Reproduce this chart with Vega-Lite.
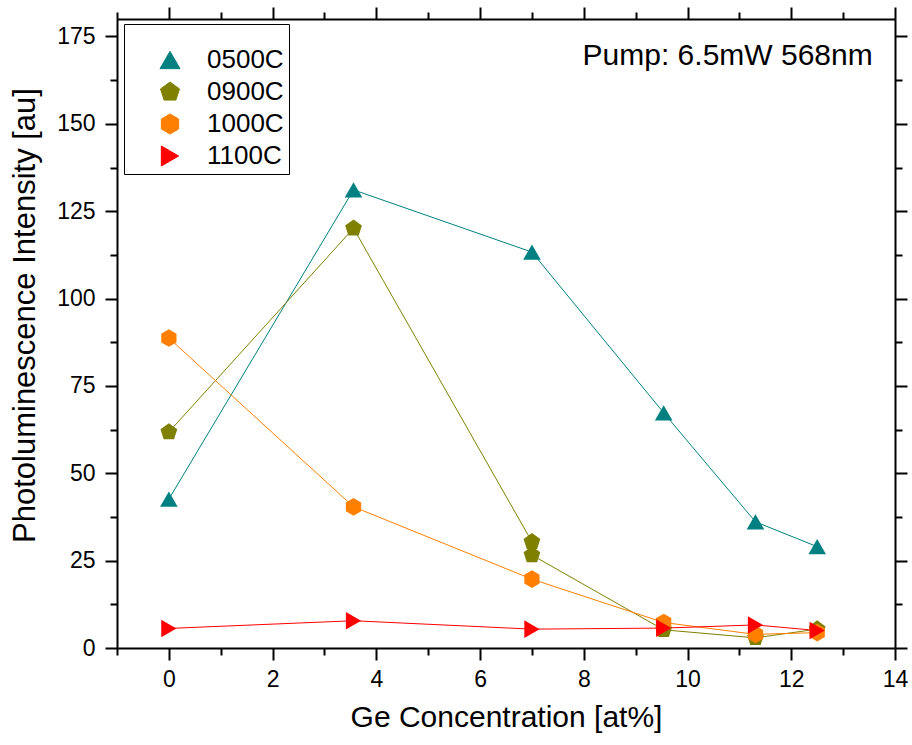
{
  "$schema": "https://vega.github.io/schema/vega-lite/v6.json",
  "width": 778,
  "height": 629,
  "autosize": "none",
  "padding": {"left": 117, "top": 19, "right": 17, "bottom": 97},
  "background": "white",
  "config": {
    "font": "Liberation Sans",
    "view": {"stroke": null},
    "axis": {
      "labelColor": "black", "titleColor": "black", "tickColor": "black", "domainColor": "black",
      "domainWidth": 2, "tickWidth": 2, "labelFontSize": 23, "titleFontSize": 30,
      "titleFontWeight": "normal", "grid": false, "labelFlush": false, "labelOverlap": false,
      "labelFont": "Liberation Sans", "titleFont": "Liberation Sans"
    },
    "legend": {
      "orient": "none", "legendX": 7, "legendY": 5, "padding": 5,
      "strokeColor": "black", "fillColor": "white", "titleFontSize": 12, "titlePadding": 6,
      "labelFontSize": 26, "labelColor": "black", "labelFont": "Liberation Sans",
      "symbolSize": 400, "symbolOffset": 28, "labelOffset": 24, "rowPadding": 6
    }
  },
  "data": {"values": [
    {"series": "0500C", "marker": "0500C", "i": 0, "x": 0, "y": 42.6},
    {"series": "0500C", "marker": "0500C", "i": 1, "x": 3.56, "y": 131.1},
    {"series": "0500C", "marker": "0500C", "i": 2, "x": 7, "y": 113.3},
    {"series": "0500C", "marker": "0500C", "i": 3, "x": 9.54, "y": 67.3},
    {"series": "0500C", "marker": "0500C", "i": 4, "x": 11.31, "y": 36.1},
    {"series": "0500C", "marker": "0500C", "i": 5, "x": 12.5, "y": 29.0},
    {"series": "0900C", "marker": "0900C", "i": 0, "x": 0, "y": 61.8},
    {"series": "0900C", "marker": "0900C", "i": 1, "x": 3.56, "y": 120.1},
    {"series": "0900C", "marker": "0900C", "i": 2, "x": 7, "y": 30.4},
    {"series": "0900C", "marker": "0900C", "i": 3, "x": 7, "y": 26.6},
    {"series": "0900C", "marker": "0900C", "i": 4, "x": 9.54, "y": 5.2},
    {"series": "0900C", "marker": "0900C", "i": 5, "x": 11.31, "y": 2.9},
    {"series": "0900C", "marker": "0900C", "i": 6, "x": 12.5, "y": 5.4},
    {"series": "1000C", "marker": "1000C", "i": 0, "x": 0, "y": 88.7},
    {"series": "1000C", "marker": "1000C", "i": 1, "x": 3.56, "y": 40.4},
    {"series": "1000C", "marker": "1000C", "i": 2, "x": 7, "y": 19.7},
    {"series": "1000C", "marker": "1000C", "i": 3, "x": 9.54, "y": 7.3},
    {"series": "1000C", "marker": "1000C", "i": 4, "x": 11.31, "y": 3.9},
    {"series": "1000C", "marker": "1000C", "i": 5, "x": 12.5, "y": 4.4},
    {"series": "1100C", "marker": "1100C", "i": 0, "x": 0, "y": 5.6},
    {"series": "1100C", "marker": "1100C", "i": 1, "x": 3.56, "y": 7.8},
    {"series": "1100C", "marker": "1100C", "i": 2, "x": 7, "y": 5.4},
    {"series": "1100C", "marker": "1100C", "i": 3, "x": 9.54, "y": 5.7},
    {"series": "1100C", "marker": "1100C", "i": 4, "x": 11.31, "y": 6.6},
    {"series": "1100C", "marker": "1100C", "i": 5, "x": 12.5, "y": 5.0}
  ]},
  "layer": [
    {
      "mark": {"type": "line", "strokeWidth": 1},
      "encoding": {
        "x": {"field": "x", "type": "quantitative",
          "scale": {"domain": [-1, 14], "nice": false, "zero": false},
          "axis": {"orient": "bottom", "title": "Ge Concentration [at%]",
            "values": [-1,0,1,2,3,4,5,6,7,8,9,10,11,12,13,14],
            "labelExpr": "datum.value % 2 === 0 ? datum.label : ''",
            "tickSize": {"condition": {"test": "datum.value % 2 === 0", "value": 12}, "value": 7},
            "labelPadding": 8, "titlePadding": 11}},
        "y": {"field": "y", "type": "quantitative",
          "scale": {"domain": [0, 180], "nice": false, "zero": false},
          "axis": {"orient": "left", "title": "Photoluminescence Intensity [au]", "titleFontSize": 31,
            "titleX": -92, "titleY": 296, "titleAlign": "center", "titleBaseline": "middle", "titleAngle": 270,
            "values": [0,12.5,25,37.5,50,62.5,75,87.5,100,112.5,125,137.5,150,162.5,175],
            "labelExpr": "datum.value % 25 === 0 ? datum.label : ''",
            "tickSize": {"condition": {"test": "datum.value % 25 === 0", "value": 12}, "value": 7},
            "labelPadding": 10}},
        "color": {"field": "series", "type": "nominal",
          "scale": {"domain": ["0500C", "0900C", "1000C", "1100C"], "range": ["#008080", "#808000", "#FF8000", "#FF0000"]},
          "legend": {"title": " ",
            "encode": {"symbols": {"update": {
              "shape": {"signal": "datum.value === '0500C' ? 'M-3,0L3,0M0,-0.78L-1,0.78L1,0.78Z' : datum.value === '0900C' ? 'M-3,0L3,0M0,-0.77L0.81,-0.18L0.5,0.77L-0.5,0.77L-0.81,-0.18Z' : datum.value === '1000C' ? 'M-3,0L3,0M0,-0.85L0.72,-0.42L0.72,0.42L0,0.85L-0.72,0.42L-0.72,-0.42Z' : 'M-3,0L3,0M-0.75,-0.8L0.85,0L-0.75,0.8Z'"},
              "fill": {"scale": "color", "field": "value"},
              "stroke": {"scale": "color", "field": "value"},
              "strokeWidth": {"value": 1},
              "opacity": {"value": 1}
            }}}}},
        "order": {"field": "i", "type": "quantitative"}
      }
    },
    {
      "mark": {"type": "point", "filled": true, "opacity": 1, "size": 310},
      "encoding": {
        "x": {"field": "x", "type": "quantitative",
          "axis": {"orient": "top", "title": null, "labels": false,
            "values": [-1,0,1,2,3,4,5,6,7,8,9,10,11,12,13,14],
            "tickSize": {"condition": {"test": "datum.value % 2 === 0", "value": 12}, "value": 7}}},
        "y": {"field": "y", "type": "quantitative",
          "axis": {"orient": "right", "title": null, "labels": false,
            "values": [0,12.5,25,37.5,50,62.5,75,87.5,100,112.5,125,137.5,150,162.5,175],
            "tickSize": {"condition": {"test": "datum.value % 25 === 0", "value": 12}, "value": 7}}},
        "color": {"field": "series", "type": "nominal",
          "legend": {"title": " ",
            "encode": {"symbols": {"update": {
              "shape": {"signal": "datum.value === '0500C' ? 'M-3,0L3,0M0,-0.78L-1,0.78L1,0.78Z' : datum.value === '0900C' ? 'M-3,0L3,0M0,-0.77L0.81,-0.18L0.5,0.77L-0.5,0.77L-0.81,-0.18Z' : datum.value === '1000C' ? 'M-3,0L3,0M0,-0.85L0.72,-0.42L0.72,0.42L0,0.85L-0.72,0.42L-0.72,-0.42Z' : 'M-3,0L3,0M-0.75,-0.8L0.85,0L-0.75,0.8Z'"},
              "fill": {"scale": "color", "field": "value"},
              "stroke": {"scale": "color", "field": "value"},
              "strokeWidth": {"value": 1},
              "opacity": {"value": 1}
            }}}}},
        "shape": {"field": "marker", "type": "nominal",
          "scale": {"domain": ["0500C", "0900C", "1000C", "1100C"],
            "range": ["triangle-up", "M0,-1L0.951,-0.309L0.588,0.809L-0.588,0.809L-0.951,-0.309Z", "M0,-1L0.866,-0.5L0.866,0.5L0,1L-0.866,0.5L-0.866,-0.5Z", "triangle-right"]},
          "legend": null}
      }
    },
    {
      "data": {"values": [{"label": "Pump: 6.5mW 568nm"}]},
      "mark": {"type": "text", "align": "right", "baseline": "alphabetic", "fontSize": 30, "font": "Liberation Sans", "color": "black"},
      "encoding": {
        "text": {"field": "label", "type": "nominal"},
        "x": {"datum": 13.57, "type": "quantitative", "axis": null},
        "y": {"datum": 166.9, "type": "quantitative", "axis": null}
      }
    }
  ],
  "resolve": {"axis": {"x": "independent", "y": "independent"}}
}
